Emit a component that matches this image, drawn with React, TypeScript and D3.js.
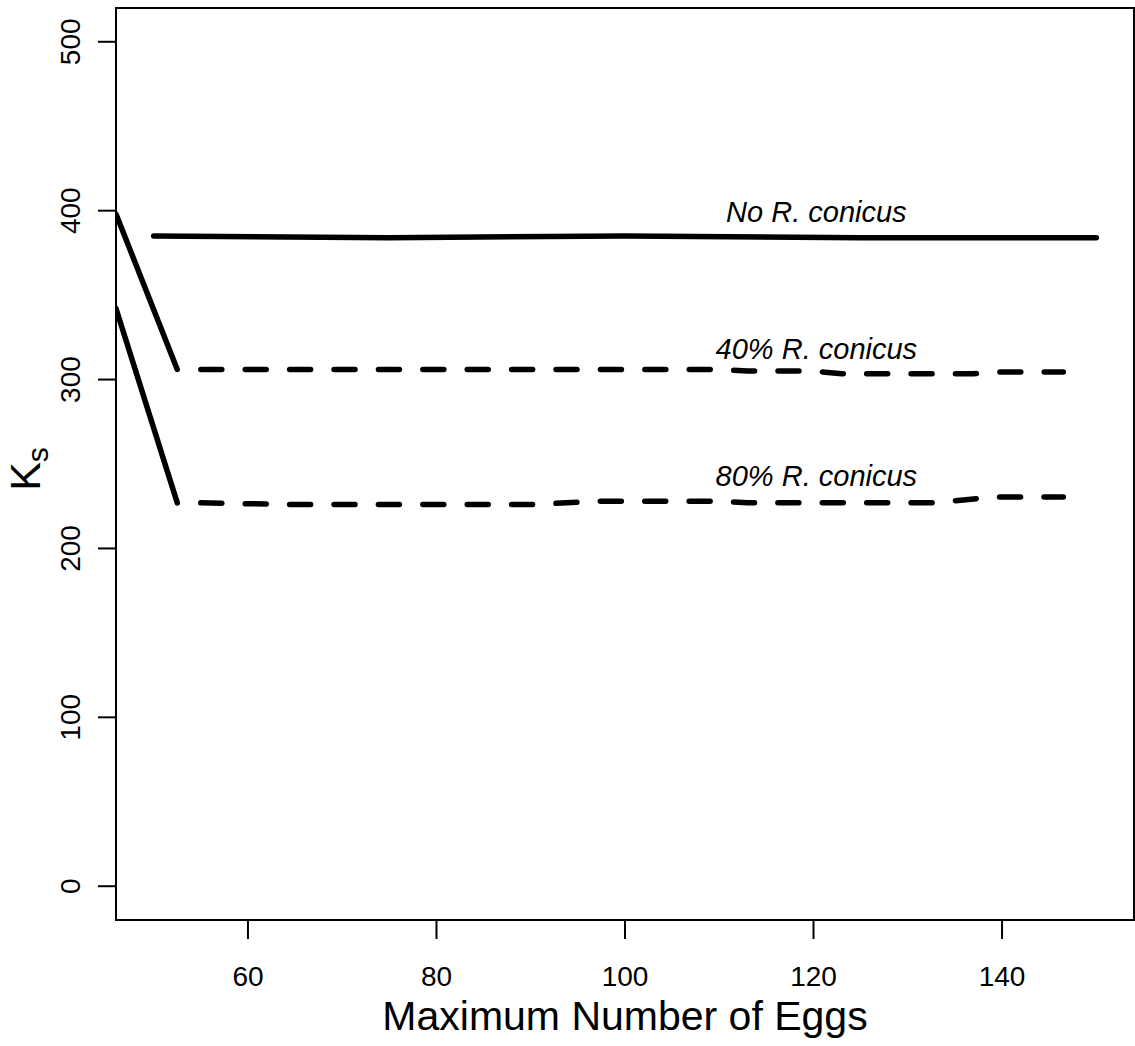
import React from "react";
import * as d3 from "d3";

const W = 1135;
const H = 1046;

// x ticks / y ticks
const xTicks = [60, 80, 100, 120, 140];
const yTicks = [0, 100, 200, 300, 400, 500];

// No R. conicus (solid)
const noRx = [50, 75, 100, 125, 150];
const noRy = [385, 384, 385, 384, 384];

// initial drops (solid)
const drop40x = [46, 52.5];
const drop40y = [398, 306];
const drop80x = [46, 52.5];
const drop80y = [342, 227];

// 40% R. conicus (dashed)
const r40x = [55, 110, 113, 120, 123, 137, 140, 146.5];
const r40y = [306, 306, 305, 305, 303.5, 303.5, 304.5, 304.5];

// 80% R. conicus (dashed)
const r80x = [55, 65, 90, 97, 110, 113, 133, 139, 146.5];
const r80y = [227, 226, 226, 228, 228, 227, 227, 230.5, 230.5];

const labels = [
  { text: "No R. conicus", x: 120.3, y: 393 },
  { text: "40% R. conicus", x: 120.3, y: 312 },
  { text: "80% R. conicus", x: 120.3, y: 237 },
];

const zip = (xs: number[], ys: number[]) => xs.map((x, i) => [x, ys[i]] as [number, number]);

export default function App() {
  const left = 116, right = 1134, top = 8, bottom = 920;
  const x = d3.scaleLinear().domain([46, 154]).range([left, right]);
  const y = d3.scaleLinear().domain([-20, 520]).range([bottom, top]);
  const line = d3.line<[number, number]>().x((d) => x(d[0])).y((d) => y(d[1]));
  const font = "'Liberation Sans', Arial, sans-serif";
  const lw = 5.5;

  return (
    <div style={{ position: "absolute", left: 0, top: 0 }}>
      <svg width={W} height={H} style={{ display: "block", background: "#fff" }} fontFamily={font}>
        <rect x={0} y={0} width={W} height={H} fill="#fff" />
        <defs>
          <clipPath id="plotclip">
            <rect x={left} y={top} width={right - left} height={bottom - top} />
          </clipPath>
        </defs>
        <g clipPath="url(#plotclip)" fill="none" stroke="#000" strokeWidth={lw} strokeLinecap="round" strokeLinejoin="round">
          <path d={line(zip(noRx, noRy)) || ""} />
          <path d={line(zip(drop40x, drop40y)) || ""} />
          <path d={line(zip(drop80x, drop80y)) || ""} />
          <path d={line(zip(r40x, r40y)) || ""} strokeDasharray="21 23.4" />
          <path d={line(zip(r80x, r80y)) || ""} strokeDasharray="21 23.4" />
        </g>
        <rect x={left} y={top} width={right - left} height={bottom - top} fill="none" stroke="#000" strokeWidth={2} />
        {/* y axis */}
        {yTicks.map((t) => (
          <g key={"y" + t}>
            <line x1={left - 18} x2={left} y1={y(t)} y2={y(t)} stroke="#000" strokeWidth={2} />
            <text
              transform={`translate(${80},${y(t)}) rotate(-90)`}
              textAnchor="middle"
              fontSize={28}
            >
              {t}
            </text>
          </g>
        ))}
        {/* x axis */}
        {xTicks.map((t) => (
          <g key={"x" + t}>
            <line x1={x(t)} x2={x(t)} y1={bottom} y2={bottom + 19} stroke="#000" strokeWidth={2} />
            <text x={x(t)} y={986} textAnchor="middle" fontSize={28}>
              {t}
            </text>
          </g>
        ))}
        <text x={(left + right) / 2} y={1030} textAnchor="middle" fontSize={41}>
          Maximum Number of Eggs
        </text>
        <text transform={`translate(40,469) rotate(-90)`} textAnchor="middle" fontSize={43}>
          <tspan>K</tspan>
          <tspan fontSize={30} dy={8}>s</tspan>
        </text>
        {labels.map((l) => (
          <text key={l.text} x={x(l.x)} y={y(l.y)} textAnchor="middle" fontSize={29} fontStyle="italic">
            {l.text}
          </text>
        ))}
      </svg>
    </div>
  );
}
